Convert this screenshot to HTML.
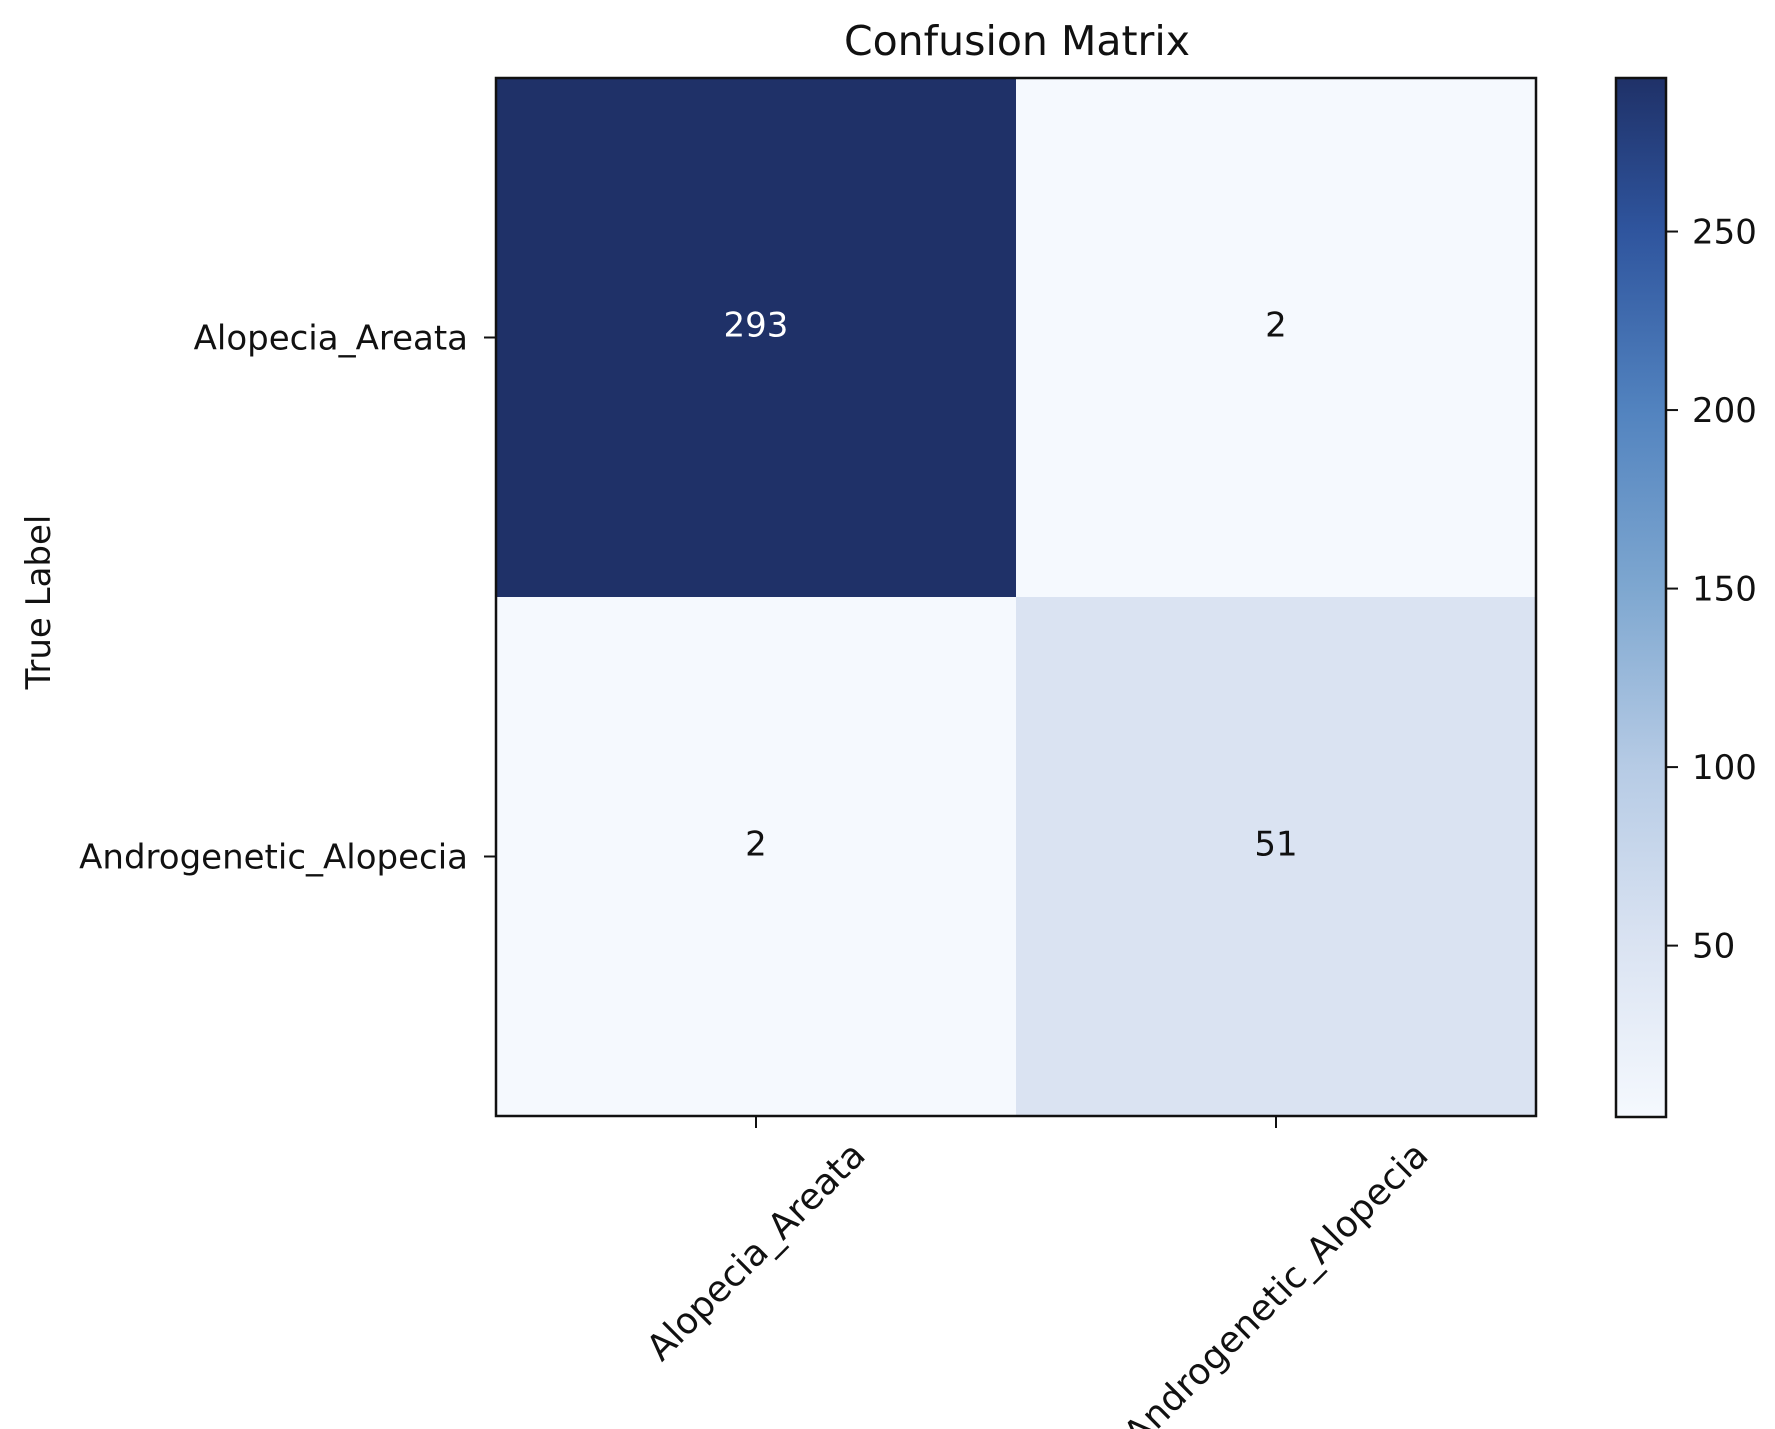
<!DOCTYPE html>
<html><head><meta charset="utf-8"><style>
html,body{margin:0;padding:0;background:#fff;}
svg{display:block;font-family:"DejaVu Sans","Liberation Sans",sans-serif;}
</style></head><body>
<svg id="chart" width="1775" height="1429" viewBox="0 0 1775 1429">
<defs>
<linearGradient id="cbgrad" x1="0" y1="1" x2="0" y2="0">
<stop offset="0" stop-color="#f5f9fe"/>
<stop offset="0.168" stop-color="#dae3f2"/>
<stop offset="0.337" stop-color="#b6cbe5"/>
<stop offset="0.508" stop-color="#7ea7d0"/>
<stop offset="0.68" stop-color="#5283bf"/>
<stop offset="0.852" stop-color="#2f559e"/>
<stop offset="1" stop-color="#1f3168"/>
</linearGradient>
</defs>
<text x="1017" y="55" font-size="41" text-anchor="middle" fill="#111">Confusion Matrix</text>
<text transform="translate(50,602) rotate(-90)" font-size="34" text-anchor="middle" fill="#111">True Label</text>
<g id="cells"></g>
<g id="labels"></g>
<rect x="496" y="78" width="1040" height="1038" fill="none" stroke="#111" stroke-width="2.5"/>
<rect x="1616" y="78" width="50" height="1039" fill="url(#cbgrad)" stroke="#111" stroke-width="2.5"/>
<g id="cbticks"></g>
</svg>
<script>
const classes = ["Alopecia_Areata", "Androgenetic_Alopecia"];
const row0 = [293, 2];
const row1 = [2, 51];
const cbTicks = [50, 100, 150, 200, 250];
const vmin = 2, vmax = 293;

const NS = "http://www.w3.org/2000/svg";
const X0 = 496, X1 = 1536, Y0 = 78, Y1 = 1116;
const n = classes.length;
const cw = (X1 - X0) / n, ch = (Y1 - Y0) / n;
const xc = i => X0 + cw * (i + 0.5);
const yc = i => Y0 + ch * (i + 0.5);
const stops = [[0,[245,249,254]],[0.168,[218,227,242]],[0.337,[182,203,229]],[0.508,[126,167,208]],[0.68,[82,131,191]],[0.852,[47,85,158]],[1,[31,49,104]]];
function cmap(v){
  let t = Math.max(0, Math.min(1, (v - vmin) / (vmax - vmin)));
  for (let k = 1; k < stops.length; k++) {
    if (t <= stops[k][0]) {
      const a = stops[k-1], b = stops[k], f = (t - a[0]) / (b[0] - a[0]);
      const c = a[1].map((x, j) => Math.round(x + (b[1][j] - x) * f));
      return `rgb(${c[0]},${c[1]},${c[2]})`;
    }
  }
  return "rgb(31,49,104)";
}
function el(tag, attrs, parent){
  const e = document.createElementNS(NS, tag);
  for (const k in attrs) e.setAttribute(k, attrs[k]);
  parent.appendChild(e);
  return e;
}
const cells = document.getElementById("cells");
const labels = document.getElementById("labels");
const rows = [row0, row1];
const thresh = (vmax + vmin) / 2;
rows.forEach((row, r) => {
  row.forEach((v, c) => {
    const rect = el("rect", {x: X0 + c * cw, y: Y0 + r * ch, width: cw + 0.5, height: ch + 0.5, fill: cmap(v)}, cells);
    
    
    const t = el("text", {x: xc(c), y: yc(r) - 1, "font-size": 34, "text-anchor": "middle", fill: v > thresh ? "#fff" : "#111"}, labels);
    t.textContent = v;
    
    
  });
});
classes.forEach((name, i) => {
  const yt = el("line", {x1: 484, x2: 496, y1: yc(i), y2: yc(i), stroke: "#111", "stroke-width": 2}, labels);
  
  
  const yl = el("text", {x: 468, y: yc(i) + 12, "font-size": 34, "text-anchor": "end", fill: "#111"}, labels);
  yl.textContent = name;
  
  
  const xt = el("line", {x1: xc(i), x2: xc(i), y1: Y1, y2: Y1 + 12, stroke: "#111", "stroke-width": 2}, labels);
  
  
  const xl = el("text", {x: 0, y: 12, "font-size": 36, "text-anchor": "middle", fill: "#111"}, labels);
  xl.textContent = name;
  
  
  const w = xl.getComputedTextLength();
  const half = (w + 36) * 0.7071 / 2;
  xl.setAttribute("transform", `translate(${xc(i)},${Y1 + 20 + half}) rotate(-45)`);
});
const cb = document.getElementById("cbticks");
const cbY = v => 1117 - (v - vmin) / (vmax - vmin) * (1117 - 78);
cbTicks.forEach(v => {
  const l = el("line", {x1: 1666, x2: 1678, y1: cbY(v), y2: cbY(v), stroke: "#111", "stroke-width": 2}, cb);
  
  
  const t = el("text", {x: 1692, y: cbY(v) + 12, "font-size": 34, fill: "#111"}, cb);
  t.textContent = v;
  
  
});
</script>
</body></html>
